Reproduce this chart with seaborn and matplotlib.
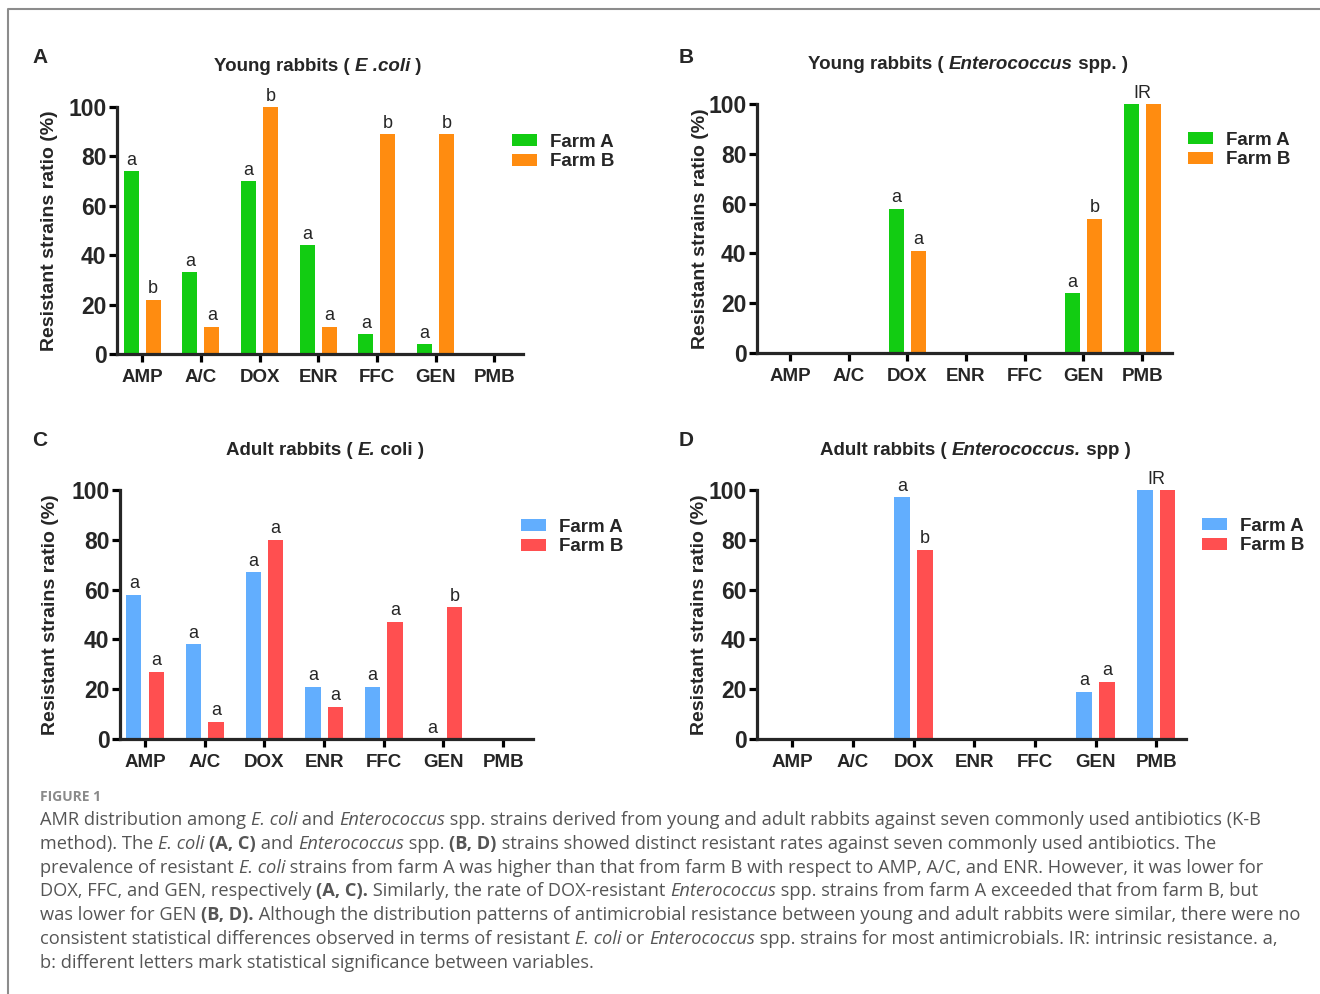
import matplotlib
matplotlib.use('Agg')
import pandas as pd
import seaborn as sns
import matplotlib.pyplot as plt
from matplotlib.patches import Patch
from matplotlib.lines import Line2D


###########################################################
# 1. DATOS
###########################################################

antibioticos = ['AMP', 'A/C', 'DOX', 'ENR', 'FFC', 'GEN', 'PMB']
granjas = ['Farm A', 'Farm B']

# Conejos jovenes - E. coli
joven_ecoli_a = [74, 33, 70, 44, 8, 4, 0]
joven_ecoli_b = [22, 11, 100, 11, 89, 89, 0]
letras_joven_ecoli_a = ['a', 'a', 'a', 'a', 'a', 'a', '']
letras_joven_ecoli_b = ['b', 'a', 'b', 'a', 'b', 'b', '']

# Conejos jovenes - Enterococcus
joven_entero_a = [0, 0, 58, 0, 0, 24, 100]
joven_entero_b = [0, 0, 41, 0, 0, 54, 100]
letras_joven_entero_a = ['', '', 'a', '', '', 'a', '']
letras_joven_entero_b = ['', '', 'a', '', '', 'b', '']

# Conejos adultos - E. coli
adulto_ecoli_a = [58, 38, 67, 21, 21, 0, 0]
adulto_ecoli_b = [27, 7, 80, 13, 47, 53, 0]
letras_adulto_ecoli_a = ['a', 'a', 'a', 'a', 'a', 'a', '']
letras_adulto_ecoli_b = ['a', 'a', 'a', 'a', 'a', 'b', '']

# Conejos adultos - Enterococcus
adulto_entero_a = [0, 0, 97, 0, 0, 19, 100]
adulto_entero_b = [0, 0, 76, 0, 0, 23, 100]
letras_adulto_entero_a = ['', '', 'a', '', '', 'a', '']
letras_adulto_entero_b = ['', '', 'b', '', '', 'a', '']

# resistencia intrinseca (sobre el grupo)
ir_entero = ['', '', '', '', '', '', 'IR']
ir_ecoli = ['', '', '', '', '', '', '']

ylabel = 'Resistant strains ratio (%)'

# caption, por linea: (texto, estilo)
caption = [
    [('AMR distribution among ', 'n'), ('E. coli', 'i'), (' and ', 'n'), ('Enterococcus', 'i'),
     (' spp. strains derived from young and adult rabbits against seven commonly used antibiotics (K-B', 'n')],
    [('method). The ', 'n'), ('E. coli', 'i'), (' ', 'n'), ('(A, C)', 'b'), (' and ', 'n'),
     ('Enterococcus', 'i'), (' spp. ', 'n'), ('(B, D)', 'b'),
     (' strains showed distinct resistant rates against seven commonly used antibiotics. The', 'n')],
    [('prevalence of resistant ', 'n'), ('E. coli', 'i'),
     (' strains from farm A was higher than that from farm B with respect to AMP, A/C, and ENR. However, it was lower for', 'n')],
    [('DOX, FFC, and GEN, respectively ', 'n'), ('(A, C).', 'b'),
     (' Similarly, the rate of DOX-resistant ', 'n'), ('Enterococcus', 'i'),
     (' spp. strains from farm A exceeded that from farm B, but', 'n')],
    [('was lower for GEN ', 'n'), ('(B, D).', 'b'),
     (' Although the distribution patterns of antimicrobial resistance between young and adult rabbits were similar, there were no', 'n')],
    [('consistent statistical differences observed in terms of resistant ', 'n'), ('E. coli', 'i'), (' or ', 'n'),
     ('Enterococcus', 'i'), (' spp. strains for most antimicrobials. IR: intrinsic resistance. a,', 'n')],
    [('b: different letters mark statistical significance between variables.', 'n')],
]
# ancho aproximado de cada linea del caption en la figura original (px)
anchos_caption = [1232, 1187, 1222, 1212, 1251, 1243, 548]


###########################################################
# 2. ESTILO Y FIGURA
###########################################################

sns.set_style('ticks')
plt.rcParams['font.family'] = ['Liberation Sans', 'DejaVu Sans']

W, H = 1320, 994
fig = plt.figure(figsize=(W / 100, H / 100), dpi=100)
renderer = fig.canvas.get_renderer()

ESTILOS = {
    'n': dict(fontweight='normal', fontstyle='normal'),
    'i': dict(fontweight='normal', fontstyle='italic'),
    'b': dict(fontweight='bold', fontstyle='normal'),
    'bi': dict(fontweight='bold', fontstyle='italic'),
}


def ancho_texto(s, **kw):
    t = fig.text(0, 0, '|' + s + '|', **kw)
    w1 = t.get_window_extent(renderer).width
    t.set_text('||')
    w0 = t.get_window_extent(renderer).width
    t.remove()
    return w1 - w0


def texto_rico(x, y, partes, centrado=False, **kw):
    # x, y en pixeles (origen arriba a la izquierda), y = linea base
    anchos = [ancho_texto(s, **ESTILOS[st], **kw) for s, st in partes]
    if centrado:
        x = x - sum(anchos) / 2
    for (s, st), w in zip(partes, anchos):
        fig.text(x / W, 1 - y / H, s, ha='left', va='baseline', **ESTILOS[st], **kw)
        x += w


###########################################################
# 3. PANELES
###########################################################

VERDE, NARANJA = '#12cc12', '#ff8c10'
AZUL, ROJO = '#62aefe', '#ff4f50'

paneles = [
    dict(letra='A', vals=(joven_ecoli_a, joven_ecoli_b),
         letras=(letras_joven_ecoli_a, letras_joven_ecoli_b), ir=ir_ecoli,
         colores=(VERDE, NARANJA), caja=(117, 523, 107, 354), xlim=(-0.43, 6.49),
         ylab_x=58, titulo=[('Young rabbits ( ', 'b'), ('E .coli', 'bi'), (' )', 'b')],
         tit_xy=(318, 71), letra_xy=(32, 63), leyenda_xy=(512, 152)),
    dict(letra='B', vals=(joven_entero_a, joven_entero_b),
         letras=(letras_joven_entero_a, letras_joven_entero_b), ir=ir_entero,
         colores=(VERDE, NARANJA), caja=(757, 1172, 104, 353), xlim=(-0.56, 6.51),
         ylab_x=709, titulo=[('Young rabbits ( ', 'b'), ('Enterococcus', 'bi'), (' spp. )', 'b')],
         tit_xy=(968, 69), letra_xy=(679, 63), leyenda_xy=(1188, 150)),
    dict(letra='C', vals=(adulto_ecoli_a, adulto_ecoli_b),
         letras=(letras_adulto_ecoli_a, letras_adulto_ecoli_b), ir=ir_ecoli,
         colores=(AZUL, ROJO), caja=(120, 533, 490, 739), xlim=(-0.42, 6.5),
         ylab_x=59, titulo=[('Adult rabbits ( ', 'b'), ('E.', 'bi'), (' coli )', 'b')],
         tit_xy=(325, 455), letra_xy=(32, 446), leyenda_xy=(521, 537)),
    dict(letra='D', vals=(adulto_entero_a, adulto_entero_b),
         letras=(letras_adulto_entero_a, letras_adulto_entero_b), ir=ir_entero,
         colores=(AZUL, ROJO), caja=(757, 1186, 490, 739), xlim=(-0.58, 6.49),
         ylab_x=708, titulo=[('Adult rabbits ( ', 'b'), ('Enterococcus.', 'bi'), (' spp )', 'b')],
         tit_xy=(975, 455), letra_xy=(679, 446), leyenda_xy=(1202, 536)),
]

for p in paneles:
    izq, der, arr, aba = p['caja']
    ax = fig.add_axes([izq / W, 1 - aba / H, (der - izq) / W, (aba - arr) / H])

    df = pd.DataFrame({
        'antibiotico': antibioticos * 2,
        'granja': [granjas[0]] * 7 + [granjas[1]] * 7,
        'valor': list(p['vals'][0]) + list(p['vals'][1]),
    })
    sns.barplot(data=df, x='antibiotico', y='valor', hue='granja', order=antibioticos,
                hue_order=granjas, palette=list(p['colores']), saturation=1,
                width=0.75, gap=0.32, linewidth=0, legend=False, ax=ax)

    # letras de significancia sobre cada barra
    for cont, letras in zip(ax.containers, p['letras']):
        for barra, letra in zip(cont, letras):
            if letra:
                ax.text(barra.get_x() + barra.get_width() / 2, barra.get_height() + 1, letra,
                        ha='center', va='bottom', fontsize=13, clip_on=False)
    for i, txt in enumerate(p['ir']):
        if txt:
            alto = max(p['vals'][0][i], p['vals'][1][i])
            ax.text(i, alto + 1, txt, ha='center', va='bottom', fontsize=13, clip_on=False)

    ax.set_xlim(*p['xlim'])
    ax.set_ylim(0, 100)
    ax.set_yticks([0, 20, 40, 60, 80, 100])
    ax.set_xlabel('')
    ax.set_ylabel(ylabel, fontsize=14, fontweight='bold')
    ax.yaxis.set_label_coords((p['ylab_x'] - izq) / (der - izq), 0.5)
    sns.despine(ax=ax)
    for lado in ['left', 'bottom']:
        ax.spines[lado].set_linewidth(2.3)
    ax.tick_params(axis='both', width=2.3, length=6, color='black')
    ax.tick_params(axis='y', labelsize=16.5, pad=1.5)
    ax.tick_params(axis='x', labelsize=13.5, pad=5)
    for t in ax.get_xticklabels() + ax.get_yticklabels():
        t.set_fontweight('bold')

    manejadores = [Patch(facecolor=c, edgecolor='none', label=g) for c, g in zip(p['colores'], granjas)]
    lx, ly = p['leyenda_xy']
    fig.legend(handles=manejadores, loc='center left', bbox_to_anchor=(lx / W, 1 - ly / H),
               bbox_transform=fig.transFigure, frameon=False, borderpad=0, borderaxespad=0,
               handlelength=1.35, handleheight=0.65, handletextpad=0.7, labelspacing=0.15,
               prop=dict(size=13.5, weight='bold'))

    texto_rico(p['tit_xy'][0], p['tit_xy'][1], p['titulo'], centrado=True, fontsize=13.5)
    fig.text(p['letra_xy'][0] / W, 1 - p['letra_xy'][1] / H, p['letra'],
             fontsize=15, fontweight='bold', ha='left', va='baseline')


###########################################################
# 4. CAPTION Y MARCO
###########################################################

fig.add_artist(Line2D([8 / W, 8 / W, 1], [0, 1 - 9 / H, 1 - 9 / H], transform=fig.transFigure,
                      color='#8c8c8c', linewidth=1.5))

fuente_cap = dict(family=['Open Sans', 'DejaVu Sans'], color='#555555')
razones = []
for linea, ref in zip(caption, anchos_caption):
    medido = sum(ancho_texto(s, fontsize=12, **ESTILOS[st], **fuente_cap) for s, st in linea)
    razones.append(ref / medido)
tam_cap = 12 * sum(razones) / len(razones)

fig.text(40 / W, 1 - 801 / H, 'FIGURE 1', fontsize=10, fontweight='bold',
         family=['Open Sans', 'DejaVu Sans'], color='#8a8a8a', ha='left', va='baseline')
for k, linea in enumerate(caption):
    texto_rico(40, 825 + 23.8 * k, linea, fontsize=tam_cap, **fuente_cap)

fig.savefig('out.png', dpi=100)
